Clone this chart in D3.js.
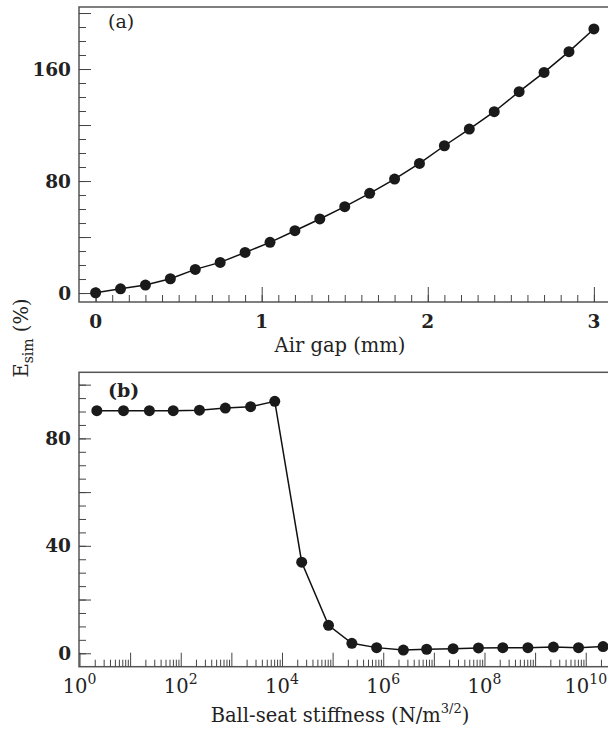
<!DOCTYPE html>
<html>
<head>
<meta charset="utf-8">
<script src="https://cdn.jsdelivr.net/npm/d3@7"></script>
<style>
  body { margin: 0; background: #fff; }
  svg { display: block; font-family: "DejaVu Serif", serif; }
  .tick line { stroke: #444; }
</style>
</head>
<body>
<div id="chart"></div>
<script>
// panel (a): air gap sweep
var gapMm = [0, 0.15, 0.3, 0.45, 0.6, 0.75, 0.9, 1.05, 1.2, 1.35, 1.5,
  1.65, 1.8, 1.95, 2.1, 2.25, 2.4, 2.55, 2.7, 2.85, 3.0];
var gapE = [0.2, 3.0, 5.7, 10.2, 16.9, 21.9, 29.0, 36.2, 44.5, 52.9, 61.7,
  71.2, 81.4, 92.6, 105.2, 117.1, 129.5, 143.8, 157.6, 172.4, 188.6];
var gapTicks = [0, 1, 2, 3];
var gapYTicks = [0, 80, 160];

// panel (b): ball-seat stiffness sweep
var stiffK = [2.2, 7.4, 24, 71, 234, 760, 2400, 7200, 24500, 83000, 2.4e5,
  7.4e5, 2.5e6, 7.2e6, 2.4e7, 7.6e7, 2.3e8, 7.2e8, 2.3e9, 7.2e9, 2.2e10];
var stiffE = [90.3, 90.3, 90.3, 90.3, 90.5, 91.3, 91.8, 93.8, 33.9, 10.4, 3.7,
  2.1, 1.2, 1.5, 1.7, 2.0, 2.1, 2.1, 2.3, 2.1, 2.5];
var stiffExp = [0, 2, 4, 6, 8, 10];
var stiffYTicks = [0, 40, 80];

var W = 608, H = 730;
var svg = d3.select("#chart").append("svg")
  .attr("width", W)
  .attr("height", H);

var left = 79, right = 640;

function frame(top, bottom) {
  svg.append("rect")
    .attr("x", left).attr("y", top)
    .attr("width", right - left).attr("height", bottom - top)
    .attr("fill", "none")
    .attr("stroke", "#555")
    .attr("stroke-width", 1.5);
}

function drawSeries(xs, ys, x, y) {
  var pts = xs.map(function(d, i) { return [x(d), y(ys[i])]; });
  svg.append("path")
    .attr("d", d3.line()(pts))
    .attr("fill", "none")
    .attr("stroke", "#111")
    .attr("stroke-width", 1.5);
  svg.append("g").selectAll("circle")
    .data(pts)
    .enter().append("circle")
    .attr("cx", function(d) { return d[0]; })
    .attr("cy", function(d) { return d[1]; })
    .attr("r", 5.5)
    .attr("fill", "#1a1a1a");
}

function yAxis(y, every, majorEvery, labels) {
  var minor = d3.range(0, y.domain()[1], every);
  var major = minor.filter(function(d) { return d % majorEvery == 0; });
  svg.append("g")
    .attr("transform", "translate(" + left + ",0)")
    .call(d3.axisRight(y).tickValues(minor).tickSize(7).tickFormat(""))
    .call(function(g) { g.select(".domain").remove(); });
  svg.append("g")
    .attr("transform", "translate(" + left + ",0)")
    .call(d3.axisRight(y).tickValues(major).tickSize(12).tickFormat(""))
    .call(function(g) { g.select(".domain").remove(); });
  svg.append("g").selectAll("text")
    .data(labels)
    .enter().append("text")
    .attr("x", left - 8)
    .attr("y", function(d) { return y(d); })
    .attr("dy", "0.36em")
    .attr("text-anchor", "end")
    .attr("font-size", 18.5)
    .attr("font-weight", "bold")
    .attr("fill", "#222")
    .text(function(d) { return d; });
}

// ---------- panel (a)
var aTop = 7, aBottom = 302;
var xa = d3.scaleLinear().domain([-0.1, 3.085]).range([left, W]);
var ya = d3.scaleLinear().domain([-6.4, 204.3]).range([aBottom, aTop]);

frame(aTop, aBottom);
yAxis(ya, 10, 40, gapYTicks);

svg.append("g")
  .attr("transform", "translate(0," + aBottom + ")")
  .call(d3.axisTop(xa).tickValues(d3.range(0, 31).map(function(d) { return d / 10; }))
    .tickSize(7).tickFormat(""))
  .call(function(g) { g.select(".domain").remove(); });
svg.append("g")
  .attr("transform", "translate(0," + aBottom + ")")
  .call(d3.axisTop(xa).tickValues(gapTicks).tickSize(15).tickFormat(""))
  .call(function(g) { g.select(".domain").remove(); });
svg.append("g").selectAll("text")
  .data(gapTicks)
  .enter().append("text")
  .attr("x", function(d) { return xa(d); })
  .attr("y", aBottom + 26)
  .attr("text-anchor", "middle")
  .attr("font-size", 18.5)
  .attr("font-weight", "bold")
  .attr("fill", "#222")
  .text(function(d) { return d; });

drawSeries(gapMm, gapE, xa, ya);

svg.append("text")
  .attr("x", 108).attr("y", 28)
  .attr("font-size", 19)
  .attr("fill", "#222")
  .text("(a)");

svg.append("text")
  .attr("x", 340).attr("y", 352)
  .attr("text-anchor", "middle")
  .attr("font-size", 19.5)
  .attr("fill", "#222")
  .text("Air gap (mm)");

// ---------- panel (b)
var bTop = 372.3, bBottom = 666.7;
var xb = d3.scaleLog().domain([1, Math.pow(10, 10.44)]).range([left + 0.5, W]);
var yb = d3.scaleLinear().domain([-5, 104.6]).range([bBottom, bTop]);

frame(bTop, bBottom);
yAxis(yb, 5, 20, stiffYTicks);

var minorLog = [];
for (var e = 0; e <= 10; e++) {
  for (var m = 2; m <= 9; m++) minorLog.push(m * Math.pow(10, e));
}
var decades = d3.range(0, 11).map(function(e) { return Math.pow(10, e); });

svg.append("g")
  .attr("transform", "translate(0," + bBottom + ")")
  .call(d3.axisTop(xb).tickValues(minorLog).tickSize(7).tickFormat(""))
  .call(function(g) { g.select(".domain").remove(); });
svg.append("g")
  .attr("transform", "translate(0," + bBottom + ")")
  .call(d3.axisTop(xb).tickValues(decades).tickSize(14).tickFormat(""))
  .call(function(g) { g.select(".domain").remove(); });

var lab = svg.append("g").selectAll("text")
  .data(stiffExp)
  .enter().append("text")
  .attr("x", function(d) { return xb(Math.pow(10, d)); })
  .attr("y", bBottom + 26)
  .attr("text-anchor", "middle")
  .attr("font-size", 19.5)
  .attr("fill", "#222");
lab.append("tspan").text("10");
lab.append("tspan")
  .attr("dy", -9)
  .attr("font-size", 14)
  .text(function(d) { return d; });

drawSeries(stiffK, stiffE, xb, yb);

svg.append("text")
  .attr("x", 108).attr("y", 397)
  .attr("font-size", 19)
  .attr("font-weight", "bold")
  .attr("fill", "#222")
  .text("(b)");

var xt = svg.append("text")
  .attr("x", 340).attr("y", 722)
  .attr("text-anchor", "middle")
  .attr("font-size", 19.5)
  .attr("fill", "#222");
xt.append("tspan").text("Ball-seat stiffness (N/m");
xt.append("tspan").attr("dy", -9).attr("font-size", 13).text("3/2");
xt.append("tspan").attr("dy", 9).text(")");

// shared y title
var yt = svg.append("text")
  .attr("transform", "translate(28,338) rotate(-90)")
  .attr("text-anchor", "middle")
  .attr("font-size", 19.5)
  .attr("fill", "#222");
yt.append("tspan").text("E");
yt.append("tspan").attr("dy", 5).attr("font-size", 14).text("sim");
yt.append("tspan").attr("dy", -5).text(" (%)");
</script>
</body>
</html>
